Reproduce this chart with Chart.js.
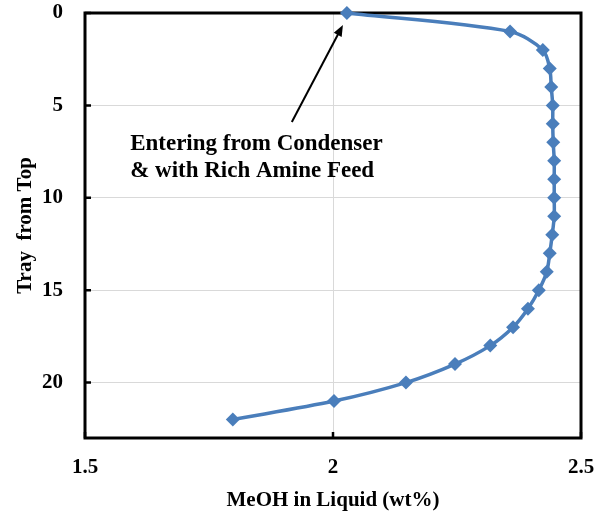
<!DOCTYPE html>
<html>
<head>
<meta charset="utf-8">
<script src="https://cdn.jsdelivr.net/npm/chart.js@4.4.1/dist/chart.umd.min.js"></script>
<style>
  html, body { margin: 0; padding: 0; background: #fff; }
  #wrap { width: 605px; height: 516px; }
</style>
</head>
<body>
<div id="wrap"><canvas id="myChart" width="605" height="516"></canvas></div>
<script>
// tray number from the top of the column
var trays = [0, 1, 2, 3, 4, 5, 6, 7, 8, 9, 10, 11, 12, 13, 14, 15, 16, 17, 18, 19, 20, 21, 22];
// MeOH in liquid, wt%
var meoh = [2.028, 2.357, 2.423, 2.437, 2.440, 2.443, 2.443, 2.444, 2.446, 2.446, 2.446, 2.446, 2.442,
            2.437, 2.431, 2.415, 2.393, 2.363, 2.317, 2.246, 2.147, 2.002, 1.798];
var xTicks = [1.5, 2, 2.5];
var yTicks = [0, 5, 10, 15, 20];

var noteLines = ["Entering from Condenser", "& with Rich Amine Feed"];
// note anchor and arrow, in data units
var noteAt = { x: 1.591, y: 7.4 };
var arrowFrom = { x: 1.917, y: 5.9 };
var arrowTo = { x: 2.020, y: 0.65 };

var points = [];
for (var i = 0; i < trays.length; i++) {
    points.push({ x: meoh[i], y: trays[i] });
}

var serif = "'Liberation Serif', 'Times New Roman', serif";

// frame, inward tick marks, note and arrow
var extras = {
    id: 'extras',
    beforeDatasetsDraw: function (chart) {
        var ctx = chart.ctx;
        var a = chart.chartArea;
        var xs = chart.scales.x, ys = chart.scales.y;
        ctx.save();
        ctx.strokeStyle = '#000';
        ctx.lineWidth = 3;
        ctx.strokeRect(a.left, a.top, a.right - a.left, a.bottom - a.top);
        ctx.lineWidth = 2.5;
        ctx.beginPath();
        yTicks.forEach(function (t) {
            var py = ys.getPixelForValue(t);
            ctx.moveTo(a.left, py);
            ctx.lineTo(a.left + 6, py);
        });
        xTicks.forEach(function (t) {
            var px = xs.getPixelForValue(t);
            ctx.moveTo(px, a.bottom);
            ctx.lineTo(px, a.bottom - 6);
        });
        ctx.stroke();
        ctx.restore();
    },
    afterDatasetsDraw: function (chart) {
        var ctx = chart.ctx;
        var xs = chart.scales.x, ys = chart.scales.y;
        ctx.save();
        ctx.fillStyle = '#000';
        ctx.font = "bold 23px " + serif;
        ctx.textBaseline = 'alphabetic';
        var tx = xs.getPixelForValue(noteAt.x);
        var ty = ys.getPixelForValue(noteAt.y);
        noteLines.forEach(function (line, k) {
            ctx.fillText(line, tx, ty + k * 27);
        });
        // arrow
        var x1 = xs.getPixelForValue(arrowFrom.x), y1 = ys.getPixelForValue(arrowFrom.y);
        var x2 = xs.getPixelForValue(arrowTo.x), y2 = ys.getPixelForValue(arrowTo.y);
        var ang = Math.atan2(y2 - y1, x2 - x1);
        var head = 12;
        ctx.strokeStyle = '#000';
        ctx.lineWidth = 2;
        ctx.beginPath();
        ctx.moveTo(x1, y1);
        ctx.lineTo(x2 - Math.cos(ang) * head * 0.8, y2 - Math.sin(ang) * head * 0.8);
        ctx.stroke();
        ctx.beginPath();
        ctx.moveTo(x2, y2);
        ctx.lineTo(x2 - head * Math.cos(ang - 0.38), y2 - head * Math.sin(ang - 0.38));
        ctx.lineTo(x2 - head * Math.cos(ang + 0.38), y2 - head * Math.sin(ang + 0.38));
        ctx.closePath();
        ctx.fill();
        ctx.restore();
    }
};

new Chart(document.getElementById("myChart"), {
    type: 'scatter',
    data: {
        datasets: [{
            data: points,
            showLine: true,
            borderColor: '#4a7ebb',
            backgroundColor: '#4a7ebb',
            borderWidth: 3.5,
            tension: 0.3,
            pointStyle: 'rectRot',
            pointRadius: 7,
            pointBorderWidth: 0,
            clip: false
        }]
    },
    options: {
        responsive: false,
        animation: false,
        layout: { padding: { left: 0, right: 0, top: 0, bottom: 0 } },
        plugins: {
            legend: { display: false },
            tooltip: { enabled: false }
        },
        scales: {
            x: {
                type: 'linear',
                min: 1.5,
                max: 2.5,
                afterBuildTicks: function (scale) {
                    scale.ticks = xTicks.map(function (v) { return { value: v }; });
                },
                afterFit: function (scale) {
                    scale.height = 78;
                    scale.paddingLeft = 14;
                    scale.paddingRight = 24;
                },
                grid: { color: '#d9d9d9', lineWidth: 1, drawTicks: false },
                border: { display: false },
                ticks: {
                    color: '#000',
                    padding: 17,
                    maxRotation: 0,
                    font: { family: serif, size: 21, weight: 'bold' },
                    callback: function (v) { return String(v); }
                },
                title: {
                    display: true,
                    text: 'MeOH in Liquid (wt%)',
                    color: '#000',
                    font: { family: serif, size: 21, weight: 'bold' },
                    padding: { top: 0, bottom: 3 }
                }
            },
            y: {
                type: 'linear',
                reverse: true,
                min: 0,
                max: 23,
                afterBuildTicks: function (scale) {
                    scale.ticks = yTicks.map(function (v) { return { value: v }; });
                },
                afterFit: function (scale) {
                    scale.width = 85;
                    scale.paddingTop = 13;
                    scale.paddingBottom = 0;
                },
                grid: { color: '#d9d9d9', lineWidth: 1, drawTicks: false },
                border: { display: false },
                ticks: {
                    color: '#000',
                    padding: 22,
                    font: { family: serif, size: 21, weight: 'bold' },
                    callback: function (v) { return String(v); }
                },
                title: {
                    display: true,
                    text: 'Tray  from Top',
                    color: '#000',
                    font: { family: serif, size: 21, weight: 'bold' },
                    padding: { top: 13, bottom: 0 }
                }
            }
        }
    },
    plugins: [extras]
});
</script>
</body>
</html>
